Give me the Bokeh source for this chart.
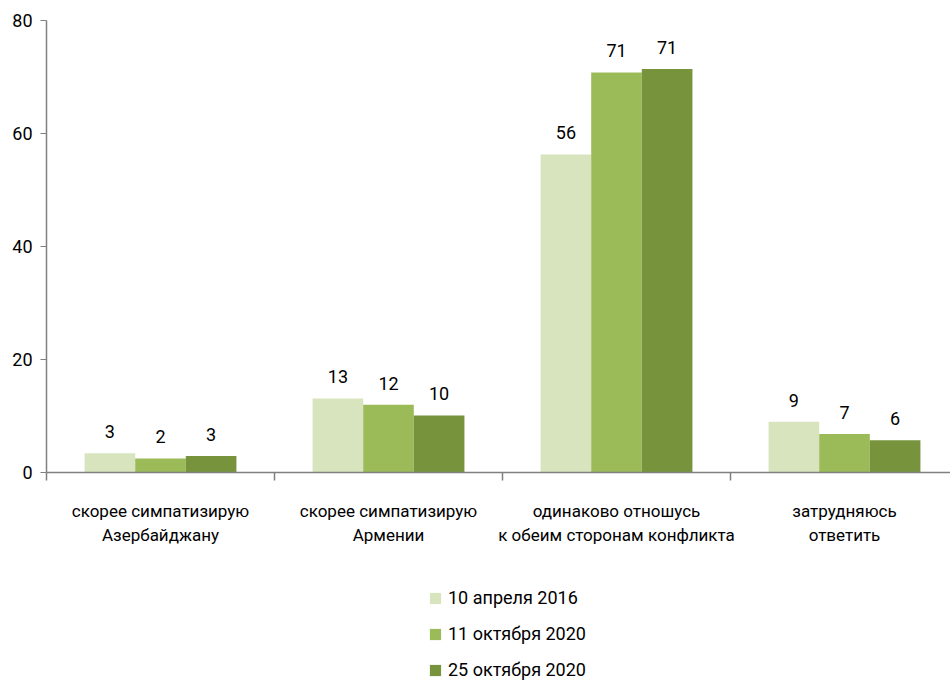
from bokeh.plotting import figure
from bokeh.layouts import column
from bokeh.models import (ColumnDataSource, FixedTicker, Legend, LegendItem,
                          Range1d, LinearAxis)
from bokeh.transform import dodge
from bokeh.embed import file_html
from bokeh.resources import INLINE
from bokeh.core.properties import value

# ---- data ----
categories = [
    "скорее симпатизирую\nАзербайджану",
    "скорее симпатизирую\nАрмении",
    "одинаково отношусь\nк обеим сторонам конфликта",
    "затрудняюсь\nответить",
]
series_names = ["10 апреля 2016", "11 октября 2020", "25 октября 2020"]
apr10_2016 = [3.4, 13.1, 56.3, 9.0]
oct11_2020 = [2.5, 12.0, 70.8, 6.8]
oct25_2020 = [2.9, 10.1, 71.4, 5.7]
labels_apr10_2016 = ["3", "13", "56", "9"]
labels_oct11_2020 = ["2", "12", "71", "7"]
labels_oct25_2020 = ["3", "10", "71", "6"]
y_ticks = [0, 20, 40, 60, 80]

colors = ["#d7e4bd", "#9bbb59", "#77933c"]
FONT = "Roboto"
BAR_W = 0.222
FRAME_W = 904
W = 950

centers = [i + 0.5 for i in range(len(categories))]
source = ColumnDataSource(dict(
    x=centers,
    s0=apr10_2016, s1=oct11_2020, s2=oct25_2020,
    l0=labels_apr10_2016, l1=labels_oct11_2020, l2=labels_oct25_2020,
))
series_cols = [("s0", "l0"), ("s1", "l1"), ("s2", "l2")]

p = figure(width=W, height=560,
           x_range=Range1d(0, FRAME_W / 228.0), y_range=Range1d(0, 80),
           output_backend="svg", toolbar_location=None,
           x_axis_type=None, y_axis_type=None,
           min_border_top=20, min_border_left=46, min_border_right=0,
           min_border_bottom=88)
p.outline_line_color = None
p.xgrid.visible = False
p.ygrid.visible = False
p.background_fill_color = "white"

for j, (col, lab) in enumerate(series_cols):
    off = (j - 1) * BAR_W
    p.vbar(x=dodge("x", off), top=col, bottom=0, width=BAR_W,
           source=source, fill_color=colors[j], line_color=None)
    p.text(x=dodge("x", off), y=col, text=lab, source=source,
           text_align="center", text_baseline="bottom", y_offset=-15,
           text_font=value(FONT), text_font_size="18px", text_color="#000000")

# y axis
yax = LinearAxis(ticker=FixedTicker(ticks=y_ticks, minor_ticks=[]))
yax.axis_line_color = "#808080"
yax.axis_line_width = 1.5
yax.major_tick_line_color = "#808080"
yax.major_tick_out = 6
yax.major_tick_in = 0
yax.minor_tick_line_color = None
yax.major_label_text_font = FONT
yax.major_label_text_font_size = "18px"
yax.major_label_text_color = "#000000"
yax.major_label_standoff = 8
p.add_layout(yax, "left")

# x axis
xax = LinearAxis(ticker=FixedTicker(ticks=centers, minor_ticks=[0, 1, 2, 3, 4]))
xax.axis_line_color = "#808080"
xax.axis_line_width = 1.5
xax.major_tick_line_color = None
xax.major_tick_out = 0
xax.major_tick_in = 0
xax.minor_tick_line_color = "#808080"
xax.minor_tick_line_width = 1.5
xax.minor_tick_out = 8
xax.minor_tick_in = 0
xax.major_label_overrides = {c: t for c, t in zip(centers, categories)}
xax.major_label_text_font = FONT
xax.major_label_text_font_size = "17px"
xax.major_label_text_color = "#000000"
xax.major_label_text_line_height = 1.2
xax.major_label_standoff = 20
p.add_layout(xax, "below")

# legend in a separate strip below (its bars lie far outside its view; only swatches show)
p2 = figure(width=W, height=120, x_range=Range1d(-1000, -999), y_range=Range1d(-1000, -999),
            output_backend="svg", toolbar_location=None,
            x_axis_type=None, y_axis_type=None,
            min_border=0, min_border_left=46)
p2.outline_line_color = None
p2.xgrid.visible = False
p2.ygrid.visible = False
leg_renderers = []
for j, (col, lab) in enumerate(series_cols):
    r = p2.vbar(x="x", top=col, bottom=0, width=BAR_W, source=source,
                fill_color=colors[j], line_color=None)
    leg_renderers.append(r)

legend = Legend(items=[LegendItem(label=n, renderers=[r]) for n, r in zip(series_names, leg_renderers)],
                orientation="vertical", location=(382, 0))
legend.glyph_width = 14
legend.glyph_height = 14
legend.label_standoff = 6
legend.label_text_font = FONT
legend.label_text_font_size = "18px"
legend.label_text_color = "#000000"
legend.spacing = 15
legend.padding = 0
legend.margin = 0
legend.border_line_alpha = 0
legend.background_fill_alpha = 0
p2.add_layout(legend, "center")

layout = column(p, p2, spacing=0)
open("out.html", "w").write(file_html(layout, INLINE))
